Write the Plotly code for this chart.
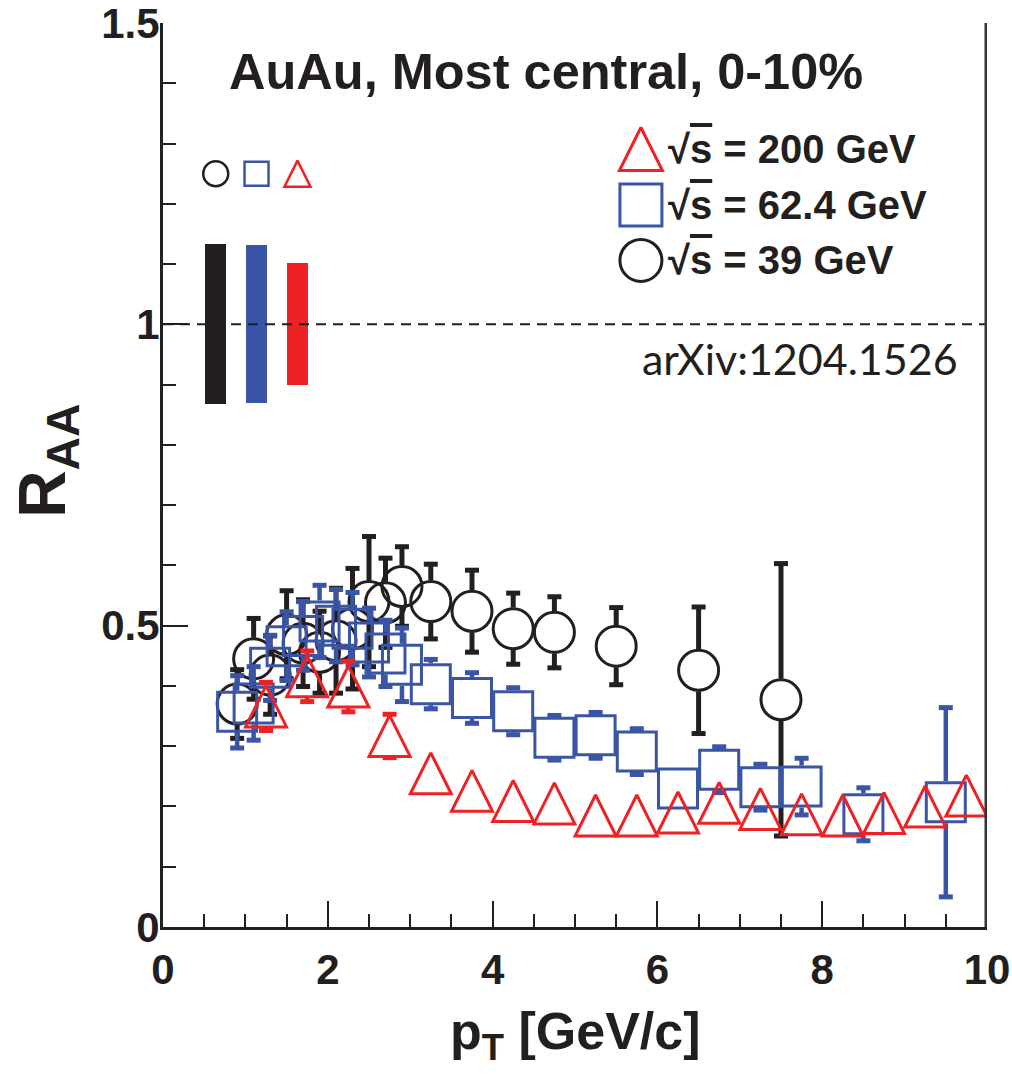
import plotly.graph_objects as go

# ---------------- data ----------------
# sqrt(s) = 39 GeV  (black open circles)
pt_39 = [0.9, 1.1, 1.3, 1.5, 1.7, 1.9, 2.1, 2.3, 2.5, 2.7, 2.9, 3.25, 3.75, 4.25, 4.75, 5.5, 6.5, 7.5]
raa_39 = [0.370, 0.445, 0.418, 0.485, 0.471, 0.456, 0.475, 0.495, 0.540, 0.538, 0.565, 0.540, 0.524,
          0.495, 0.489, 0.466, 0.426, 0.377]
err_39 = [0.057, 0.067, 0.065, 0.073, 0.072, 0.068, 0.087, 0.100, 0.108, 0.074, 0.066, 0.062, 0.068,
          0.059, 0.059, 0.064, 0.105, 0.226]

# sqrt(s) = 62.4 GeV  (blue open squares)
pt_62 = [0.9, 1.1, 1.3, 1.5, 1.7, 1.9, 2.1, 2.3, 2.5, 2.7, 2.9, 3.25, 3.75, 4.25, 4.75, 5.25, 5.75,
         6.25, 6.75, 7.25, 7.75, 8.5, 9.5]
raa_62 = [0.357, 0.371, 0.430, 0.466, 0.483, 0.507, 0.500, 0.495, 0.472, 0.454, 0.435, 0.403, 0.380,
          0.358, 0.314, 0.318, 0.291, 0.230, 0.261, 0.232, 0.233, 0.187, 0.207]
err_62 = [0.060, 0.061, 0.054, 0.057, 0.057, 0.060, 0.060, 0.060, 0.057, 0.055, 0.061, 0.041, 0.042,
          0.039, 0.037, 0.038, 0.038, 0.030, 0.038, 0.038, 0.047, 0.044, 0.157]

# sqrt(s) = 200 GeV  (red open triangles)
pt_200 = [1.25, 1.75, 2.25, 2.75, 3.25, 3.75, 4.25, 4.75, 5.25, 5.75, 6.25, 6.75, 7.25, 7.75, 8.25,
          8.75, 9.25, 9.75]
raa_200 = [0.366, 0.416, 0.399, 0.317, 0.255, 0.226, 0.209, 0.205, 0.185, 0.185, 0.190, 0.206, 0.196,
           0.187, 0.185, 0.189, 0.200, 0.218]
err_200 = [0.040, 0.042, 0.042, 0.036, 0.030, 0.028, 0.026, 0.025, 0.024, 0.024, 0.024, 0.025, 0.025,
           0.024, 0.024, 0.024, 0.025, 0.027]

# normalisation uncertainties (boxes around unity): 39, 62.4, 200 GeV
norm_unc = [0.133, 0.131, 0.101]

legend_energies = ["200", "62.4", "39"]
title_text = "AuAu, Most central, 0-10%"
ref_text = "arXiv:1204.1526"

# ---------------- style ----------------
BLACK = "#231f20"
BLUE = "#3a55a5"
RED = "#ee2225"
FONT = "Liberation Sans"

W, H = 1012, 1074
ML, MR, MT, MB = 163, 25, 23, 147
PLOT_H = H - MT - MB
YMAX = 1.5
PX_PER_Y = PLOT_H / YMAX
MS = 40                      # marker size (px)
HALF = (MS / 2 + 1) / PX_PER_Y   # half marker in data units

fig = go.Figure()


def add_errors(x, y, e, color, stem_w):
    sx, sy, cx, cy = [], [], [], []
    for xi, yi, ei in zip(x, y, e):
        if ei > HALF * 0.95:
            sx += [xi, xi, None, xi, xi, None]
            sy += [yi + HALF, yi + ei, None, yi - HALF, yi - ei, None]
            cx += [xi, xi]
            cy += [yi + ei, yi - ei]
    fig.add_trace(go.Scatter(x=sx, y=sy, mode="lines", line=dict(color=color, width=stem_w),
                             hoverinfo="skip", showlegend=False))
    fig.add_trace(go.Scatter(x=cx, y=cy, mode="markers",
                             marker=dict(symbol="line-ew", size=10, line=dict(color=color, width=5)),
                             hoverinfo="skip", showlegend=False))


TRI = dict(symbol="arrow-down-open", angle=180)

# normalisation boxes
norm_x = [0.64, 1.135, 1.632]
norm_col = [BLACK, BLUE, RED]
fig.add_trace(go.Bar(x=norm_x, y=[2 * u for u in norm_unc], base=[1 - u for u in norm_unc],
                     width=0.255, marker=dict(color=norm_col, line=dict(width=0)),
                     hoverinfo="skip", showlegend=False))
# small symbols above the boxes
fig.add_trace(go.Scatter(x=[norm_x[0]], y=[1.25], mode="markers",
                         marker=dict(symbol="circle-open", size=25, color=BLACK, line=dict(width=2.5)),
                         showlegend=False))
fig.add_trace(go.Scatter(x=[norm_x[1]], y=[1.25], mode="markers",
                         marker=dict(symbol="square-open", size=24, color=BLUE, line=dict(width=2.5)),
                         showlegend=False))
fig.add_trace(go.Scatter(x=[norm_x[2]], y=[1.25], mode="markers",
                         marker=dict(size=26, color=RED, line=dict(width=2.5), standoff=13, **TRI),
                         showlegend=False))

# unity line
fig.add_hline(y=1, line=dict(color=BLACK, width=2, dash="10px,7px"))

# data: 39 GeV
add_errors(pt_39, raa_39, err_39, BLACK, 5)
fig.add_trace(go.Scatter(x=pt_39, y=raa_39, mode="markers",
                         marker=dict(symbol="circle-open", size=MS, color=BLACK, line=dict(width=3)),
                         showlegend=False))
# 62.4 GeV
add_errors(pt_62, raa_62, err_62, BLUE, 4.5)
fig.add_trace(go.Scatter(x=pt_62, y=raa_62, mode="markers",
                         marker=dict(symbol="square-open", size=MS - 1, color=BLUE, line=dict(width=3)),
                         showlegend=False))
# 200 GeV
add_errors(pt_200, raa_200, err_200, RED, 4.5)
fig.add_trace(go.Scatter(x=pt_200, y=raa_200, mode="markers",
                         marker=dict(size=MS + 1, color=RED, line=dict(width=3), standoff=(MS + 1) / 2, **TRI),
                         showlegend=False))

# legend (drawn manually)
leg_y = [1.291, 1.198, 1.106]
fig.add_trace(go.Scatter(x=[5.80], y=[leg_y[0]], mode="markers",
                         marker=dict(size=43, color=RED, line=dict(width=3), standoff=21.5, **TRI),
                         showlegend=False))
fig.add_trace(go.Scatter(x=[5.80], y=[leg_y[1]], mode="markers",
                         marker=dict(symbol="square-open", size=42, color=BLUE, line=dict(width=3)),
                         showlegend=False))
fig.add_trace(go.Scatter(x=[5.80], y=[leg_y[2]], mode="markers",
                         marker=dict(symbol="circle-open", size=42, color=BLACK, line=dict(width=3)),
                         showlegend=False))
for en, yy in zip(legend_energies, leg_y):
    lab = ("√<span style='text-decoration:overline'>s</span> = " + en + " GeV")
    fig.add_annotation(x=6.1, y=yy, xref="x", yref="y", text=lab, showarrow=False,
                       xanchor="left", yanchor="middle",
                       font=dict(family=FONT, size=40, color=BLACK, weight="bold"))

fig.add_annotation(x=0.465, y=0.946, xref="paper", yref="paper", text=title_text, showarrow=False,
                   xanchor="center", yanchor="middle",
                   font=dict(family=FONT, size=50.5, color=BLACK, weight="bold"))
fig.add_annotation(x=0.773, y=0.629, xref="paper", yref="paper", text=ref_text, showarrow=False,
                   xanchor="center", yanchor="middle",
                   font=dict(family="Lato", size=43, color=BLACK))

# axis titles
fig.add_annotation(x=0.5, y=-0.12, xref="paper", yref="paper", text="p<sub>T</sub> [GeV/c]",
                   showarrow=False, xanchor="center", yanchor="middle",
                   font=dict(family=FONT, size=52, color=BLACK, weight="bold"))
fig.add_annotation(x=-0.14, y=0.515, xref="paper", yref="paper", text="R<sub>AA</sub>",
                   showarrow=False, xanchor="center", yanchor="middle", textangle=-90,
                   font=dict(family=FONT, size=66, color=BLACK, weight="bold"))

# right frame line
fig.add_shape(type="line", xref="x", yref="paper", x0=10, x1=10, y0=0, y1=1,
              line=dict(color="#333333", width=5))

fig.update_layout(width=W, height=H, margin=dict(l=ML, r=MR, t=MT, b=MB, autoexpand=False),
                  plot_bgcolor="white", paper_bgcolor="white", showlegend=False, bargap=0)
fig.update_xaxes(range=[0, 10], showline=True, linewidth=3, linecolor=BLACK, showgrid=False,
                 zeroline=False, ticks="inside", ticklen=26, tickwidth=2, tickcolor=BLACK,
                 tickmode="linear", tick0=0, dtick=2, ticklabelstandoff=4, ticklabeloverflow="allow",
                 automargin=False,
                 minor=dict(ticks="inside", ticklen=13, tickwidth=2, dtick=0.5, tickcolor=BLACK, showgrid=False),
                 tickfont=dict(family=FONT, size=42, color=BLACK, weight="bold"))
fig.update_yaxes(range=[0, YMAX], showline=True, linewidth=3, linecolor=BLACK, showgrid=False,
                 zeroline=False, ticks="inside", ticklen=25, tickwidth=2, tickcolor=BLACK,
                 tickmode="linear", tick0=0, dtick=0.5, ticklabelstandoff=-8, ticklabeloverflow="allow",
                 automargin=False,
                 minor=dict(ticks="inside", ticklen=13, tickwidth=2, dtick=0.1, tickcolor=BLACK, showgrid=False),
                 tickfont=dict(family=FONT, size=42, color=BLACK, weight="bold"))

fig.write_html("out.html")
